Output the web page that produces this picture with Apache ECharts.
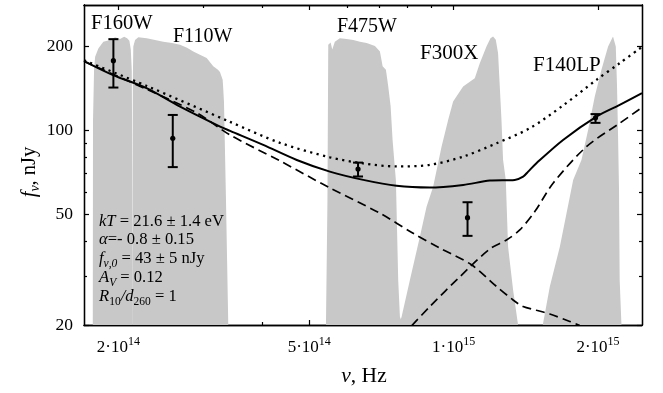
<!DOCTYPE html>
<html>
<head>
<meta charset="utf-8">
<script src="https://cdn.jsdelivr.net/npm/echarts@6/dist/echarts.min.js"></script>
<style>
  html, body { margin: 0; padding: 0; background: #fff; }
  #chart { width: 663px; height: 393px; }
</style>
</head>
<body>
<div id="chart"></div>
<script>
// frequency in units of 1e14 Hz, flux density in nJy (both axes logarithmic)
const nuRange = [1.696, 24.7];
const fRange = [20, 282];
const xMajorTicks = [2, 5, 10, 20];
const xMinorTicks = [3, 4, 6, 7, 8, 9];
const yMajorTicks = [20, 50, 100, 200];
const yMinorTicks = [30, 40, 60, 70, 80, 90];

// photometry with errors
const obsNu = [1.953, 2.597, 6.32, 10.69, 19.76];
const obsF = [178, 93.7, 72.6, 48.6, 110.9];
const obsLo = [142.5, 73.8, 68.3, 41.8, 106.4];
const obsHi = [212.6, 113.6, 76.6, 55.2, 114.4];

// model: total (solid)
const totalNu = [1.70, 1.95, 2.29, 2.69, 3.26, 3.42, 4.01, 4.71, 5.52, 6.48, 7.60, 8.92, 10.47, 11.90, 13.41, 13.96, 14.30, 14.88, 16.91, 19.85, 22.19, 24.70];
const totalF = [177, 158, 141.8, 121.7, 103.2, 99.6, 88.7, 78.3, 71.1, 66.4, 63.2, 62.3, 63.7, 66.0, 66.4, 68.2, 71.1, 76.2, 92.4, 112.1, 123.4, 136.0];
// model without absorption (dotted)
const dottedNu = [1.696, 2.292, 3.418, 4.345, 5.523, 6.478, 7.604, 8.922, 10.466, 12.288, 14.414, 16.913, 19.853, 22.194, 24.705];
const dottedF = [178.4, 144.4, 107.3, 90.2, 80.0, 76.1, 74.2, 75.2, 80.5, 89.9, 101.8, 122.9, 151.9, 174.3, 199.5];
// power-law component (dashed)
const plawNu = [1.696, 2.292, 2.913, 3.418, 4.345, 5.523, 7.020, 8.233, 9.359, 10.895, 12.288, 13.304, 13.958, 14.883, 15.866, 17.466, 18.323];
const plawF = [177.0, 140.4, 115.6, 96.3, 77.7, 62.1, 50.4, 42.7, 37.8, 32.9, 27.5, 24.6, 23.3, 22.6, 21.9, 20.6, 19.9];
// blackbody component (dashed)
const bbodyNu = [8.182, 8.922, 10.302, 11.895, 12.889, 13.738, 14.764, 16.119, 18.921, 22.194, 24.705];
const bbodyF = [19.9, 23.3, 29.8, 37.5, 40.4, 43.9, 51.1, 64.6, 87.4, 106.1, 120.9];

// filter transmission curves (scaled to the plot)
const filterNames = ['F160W', 'F110W', 'F475W', 'F300X', 'F140LP'];
const f160wNu = [1.769, 1.771, 1.780, 1.789, 1.817, 1.861, 1.922, 1.969, 2.016, 2.056, 2.086, 2.109, 2.123, 2.133, 2.136, 2.141];
const f160wF = [20, 109, 165, 184, 197, 208, 211, 216, 213, 217, 214, 210, 195, 165, 109, 20];
const f110wNu = [2.138, 2.144, 2.149, 2.167, 2.201, 2.292, 2.385, 2.482, 2.588, 2.689, 2.781, 2.866, 2.959, 3.056, 3.154, 3.226, 3.257, 3.300, 3.310, 3.321, 3.353, 3.390];
const f110wF = [20, 152, 200, 211, 216, 214, 211, 208, 206, 203, 198, 192, 187, 182, 170, 165, 162, 152, 140, 126, 56, 20];
const f475wNu = [5.418, 5.457, 5.478, 5.541, 5.584, 5.654, 5.791, 5.984, 6.177, 6.378, 6.586, 6.854, 7.020, 7.112, 7.225, 7.305, 7.390, 7.461, 7.580, 7.664, 7.727, 7.839];
const f475wF = [20, 56, 203, 207, 195, 208, 214, 213, 211, 208, 206, 201, 192, 170, 165, 144, 122, 92, 66, 29, 21.4, 20];
const f300xNu = [7.690, 7.790, 8.107, 8.504, 8.781, 9.063, 9.436, 9.740, 9.976, 10.466, 11.069, 11.338, 11.708, 11.935, 12.085, 12.243, 12.378, 12.480, 12.582, 12.679, 12.845, 12.987, 13.304, 13.626];
const f300xF = [20, 21.4, 29.0, 41.5, 53.2, 62.8, 87.4, 109.0, 126.9, 143.7, 154.0, 174.3, 200, 214.4, 217.3, 211.4, 189.3, 143.7, 109.0, 78.3, 66.4, 38.2, 26.7, 20];
const f140lpNu = [15.34, 15.87, 16.65, 17.75, 18.47, 19.07, 19.69, 20.33, 20.99, 21.49, 21.78, 21.91, 22.02, 22.12, 22.19, 22.38];
const f140lpF = [20, 27.5, 38.2, 66.4, 78.3, 100.4, 132.3, 165, 200, 217.3, 200, 143.7, 95, 61.1, 29, 20];

const lg = Math.log10;
const SERIF = 'Liberation Serif';
const pairs = (xs, ys) => xs.map((v, i) => [lg(v), lg(ys[i])]);

const myChart = echarts.init(document.getElementById('chart'));

function tok(size, italic, pad) {
  const s = { fontFamily: SERIF, fontSize: size, fontStyle: italic ? 'italic' : 'normal', fill: '#000', color: '#000' };
  if (pad) s.padding = pad;
  return s;
}

function xAxisDef(pos, ticks, len, labels) {
  return {
    type: 'value', position: pos, min: lg(nuRange[0]), max: lg(nuRange[1]),
    splitLine: { show: false },
    axisLine: { onZero: false, lineStyle: { color: '#000', width: 1.3 } },
    axisTick: { inside: true, length: len, customValues: ticks.map(lg), lineStyle: { color: '#000', width: 1.2 } },
    axisLabel: labels ? {
      customValues: xMajorTicks.map(lg),
      margin: 11,
      formatter: function (v) {
        const n = Math.pow(10, v);
        const e = Math.floor(lg(n) + 1e-9);
        const m = Math.round(n / Math.pow(10, e));
        return '{m|' + m + '·10}{e|' + (e + 14) + '}';
      },
      rich: { m: tok(17, false), e: tok(12, false, [0, 0, 11, 0]) }
    } : { show: false }
  };
}

function yAxisDef(pos, ticks, len, labels) {
  return {
    type: 'value', position: pos, min: lg(fRange[0]), max: lg(fRange[1]),
    splitLine: { show: false },
    axisLine: { onZero: false, lineStyle: { color: '#000', width: 1.3 } },
    axisTick: { inside: true, length: len, customValues: ticks.map(lg), lineStyle: { color: '#000', width: 1.2 } },
    axisLabel: labels ? {
      customValues: yMajorTicks.map(lg),
      margin: 11,
      color: '#000', fontFamily: SERIF, fontSize: 17.5,
      formatter: v => String(Math.round(Math.pow(10, v)))
    } : { show: false }
  };
}

function filterSeries(nu, f) {
  return {
    type: 'line', data: pairs(nu, f), symbol: 'none', silent: true, z: 1,
    lineStyle: { width: 0 },
    areaStyle: { color: '#c8c8c8', opacity: 1, origin: 'start' }
  };
}

function modelSeries(nu, f, width, type) {
  return {
    type: 'line', data: pairs(nu, f), symbol: 'none', silent: true, z: 3,
    smooth: 0.3,
    lineStyle: { color: '#000', width: width, type: type, cap: 'butt' }
  };
}

function label(x, y, text, size, rich, align, rot) {
  return {
    type: 'text', x: x, y: y, z: 100, silent: true, rotation: rot || 0,
    style: {
      text: text, fontFamily: SERIF, fontSize: size, fill: '#000',
      textAlign: align || 'left', textVerticalAlign: 'middle', rich: rich || {}
    }
  };
}

const boxRich = {
  i: tok(16.6, true),
  s: tok(11.5, false, [10, 0, 0, 0]),
  si: tok(11.5, true, [10, 0, 0, 0])
};

myChart.setOption({
  animation: false,
  backgroundColor: '#fff',
  grid: { left: 84, right: 21, top: 5, bottom: 68, outerBoundsMode: 'none' },
  xAxis: [
    xAxisDef('bottom', xMajorTicks, 5, true),
    xAxisDef('bottom', xMinorTicks, 3, false),
    xAxisDef('top', xMajorTicks, 5, false),
    xAxisDef('top', xMinorTicks, 3, false)
  ],
  yAxis: [
    yAxisDef('left', yMajorTicks, 5, true),
    yAxisDef('left', yMinorTicks, 3, false),
    yAxisDef('right', yMajorTicks, 5, false),
    yAxisDef('right', yMinorTicks, 3, false)
  ],
  series: [
    filterSeries(f160wNu, f160wF),
    filterSeries(f110wNu, f110wF),
    filterSeries(f475wNu, f475wF),
    filterSeries(f300xNu, f300xF),
    filterSeries(f140lpNu, f140lpF),
    modelSeries(dottedNu, dottedF, 2.3, [2.2, 4.4]),
    modelSeries(plawNu, plawF, 1.7, [9, 5]),
    modelSeries(bbodyNu, bbodyF, 1.7, [9, 5]),
    modelSeries(totalNu, totalF, 2, 'solid'),
    {
      type: 'custom', z: 5, silent: true,
      data: obsNu.map((v, i) => [lg(v), lg(obsF[i]), lg(obsLo[i]), lg(obsHi[i])]),
      renderItem: function (params, api) {
        const c = api.coord([api.value(0), api.value(1)]);
        const lo = api.coord([api.value(0), api.value(2)])[1];
        const hi = api.coord([api.value(0), api.value(3)])[1];
        const w = 5;
        const st = { stroke: '#000', lineWidth: 2 };
        return {
          type: 'group',
          children: [
            { type: 'line', shape: { x1: c[0], y1: lo, x2: c[0], y2: hi }, style: st },
            { type: 'line', shape: { x1: c[0] - w, y1: lo, x2: c[0] + w, y2: lo }, style: st },
            { type: 'line', shape: { x1: c[0] - w, y1: hi, x2: c[0] + w, y2: hi }, style: st },
            { type: 'circle', shape: { cx: c[0], cy: c[1], r: 2.6 }, style: { fill: '#000' } }
          ]
        };
      }
    }
  ],
  graphic: [
    label(91, 24, filterNames[0], 20.5),
    label(173, 37, filterNames[1], 20),
    label(337, 26.5, filterNames[2], 20),
    label(420, 53, filterNames[3], 21),
    label(533, 65, filterNames[4], 21),
    label(99, 221.5, '{i|kT} = 21.6 ± 1.4 eV', 16.6, boxRich),
    label(99, 239.5, '{i|α}=- 0.8 ± 0.15', 16.6, boxRich),
    label(99, 259, '{i|f}{si|ν,0} = 43 ± 5 nJy', 16.6, boxRich),
    label(99, 278, '{i|A}{si|V} = 0.12', 16.6, boxRich),
    label(99, 296.5, '{i|R}{s|10}{i|/d}{s|260} = 1', 16.6, boxRich),
    label(364, 376, '{i|ν}, Hz', 21.5, { i: tok(21.5, true) }, 'center'),
    label(30, 172, '{i|f}{si|ν}, nJy', 20.5, { i: tok(20.5, true), si: tok(14, true, [10, 0, 0, 0]) }, 'center', Math.PI / 2)
  ]
});
</script>
</body>
</html>
